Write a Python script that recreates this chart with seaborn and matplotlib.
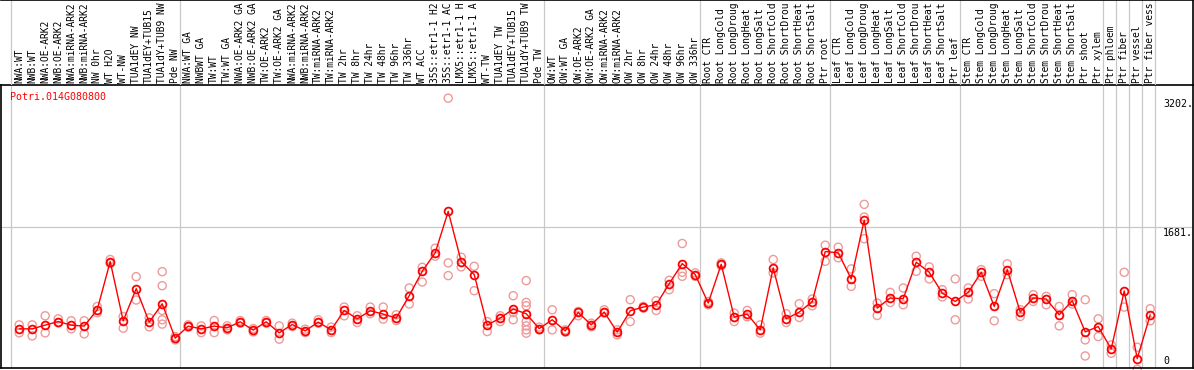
import numpy as np
import pandas as pd
import matplotlib
matplotlib.use("Agg")
import matplotlib.pyplot as plt
import seaborn as sns

# ---------------- data ----------------
gene_id = "Potri.014G080800"

categories = [
    "NWA:WT", "NWB:WT", "NWA:OE-ARK2", "NWB:OE-ARK2", "NWA:miRNA-ARK2", "NWB:miRNA-ARK2",
    "NW 0hr", "WT H2O", "WT-NW", "TUA1dEY NW", "TUA1dEY+TUB15", "TUA1dY+TUB9 NW", "Pde NW",
    "NWA:WT GA", "NWBWT GA", "TW:WT", "TW:WT GA", "NWA:OE-ARK2 GA", "NWB:OE-ARK2 GA",
    "TW:OE-ARK2", "TW:OE-ARK2 GA", "NWA:miRNA-ARK2", "NWB:miRNA-ARK2", "TW:miRNA-ARK2",
    "TW:miRNA-ARK2", "TW 2hr", "TW 8hr", "TW 24hr", "TW 48hr", "TW 96hr", "TW 336hr",
    "WT ACC", "35S::etr1-1 H2", "35S::etr1-1 AC", "LMX5::etr1-1 H", "LMX5::etr1-1 A",
    "WT-TW", "TUA1dEY TW", "TUA1dEY+TUB15", "TUA1dY+TUB9 TW", "Pde TW",
    "OW:WT", "OW:WT GA", "OW:OE-ARK2", "OW:OE-ARK2 GA", "OW:miRNA-ARK2", "OW:miRNA-ARK2",
    "OW 2hr", "OW 8hr", "OW 24hr", "OW 48hr", "OW 96hr", "OW 336hr",
    "Root CTR", "Root LongCold", "Root LongDroug", "Root LongHeat", "Root LongSalt",
    "Root ShortCold", "Root ShortDrou", "Root ShortHeat", "Root ShortSalt", "Ptr root",
    "Leaf CTR", "Leaf LongCold", "Leaf LongDroug", "Leaf LongHeat", "Leaf LongSalt",
    "Leaf ShortCold", "Leaf ShortDrou", "Leaf ShortHeat", "Leaf ShortSalt", "Ptr leaf",
    "Stem CTR", "Stem LongCold", "Stem LongDroug", "Stem LongHeat", "Stem LongSalt",
    "Stem ShortCold", "Stem ShortDrou", "Stem ShortHeat", "Stem ShortSalt", "Ptr shoot",
    "Ptr xylem", "Ptr phloem", "Ptr fiber", "Ptr vessel", "Ptr fiber vess",
]

group_sizes = [13, 28, 12, 10, 10, 11, 1, 1, 1, 1]

mean_values = [
    480, 480, 524, 566, 524, 512, 705, 1274, 575, 954, 559, 776, 370,
    512, 480, 512, 492, 563, 465, 563, 433, 531, 456, 559, 468, 697, 598, 693, 654,
    607, 871, 1159, 1377, 1866, 1274, 1120, 524, 607, 713, 658, 483,
    587, 456, 673, 527, 678, 441, 693, 737, 764, 1013, 1250, 1120,
    784, 1242, 619, 654, 468, 1199, 598, 678, 800, 1392,
    1377, 1069, 1763, 725, 844, 835, 1266, 1147, 903, 803,
    910, 1147, 744, 1179, 678, 844, 832, 646, 812, 444, 507,
    243, 927, 128, 646,
]

replicates = [
    [527, 433], [527, 397], [634, 433], [598, 551], [575, 480], [575, 421],
    [744, 670], [1298, 1250], [626, 488], [1096, 820], [610, 504],
    [1155, 989, 697, 587, 536], [389, 350],
    [527, 500], [515, 436], [578, 436], [515, 468], [578, 547], [483, 444],
    [578, 547], [515, 358], [547, 507], [476, 436], [587, 547], [500, 436],
    [737, 634], [634, 555], [737, 658], [737, 595], [646, 578], [962, 773],
    [1206, 1033], [1431, 1337], [3202, 1258, 1108], [1325, 1211], [1218, 930],
    [566, 448], [634, 566], [871, 673, 587],
    [1049, 792, 752, 566, 515, 468, 429], [500, 468],
    [705, 468], [468, 441], [685, 634], [547, 504], [705, 666], [409, 468],
    [824, 566], [744, 725], [812, 697], [1052, 942], [1487, 1147, 1100], [1140, 1100],
    [803, 764], [1258, 1226], [666, 566], [697, 622], [527, 429], [1298, 1140],
    [658, 555], [776, 614], [832, 752], [1467, 1277],
    [1443, 1318], [1187, 981], [1949, 1799, 1543], [784, 638], [910, 792],
    [962, 764], [1337, 1159], [1211, 1069], [942, 856], [1069, 587],
    [962, 832], [1179, 1100], [895, 575], [1247, 1120], [705, 626], [883, 803],
    [863, 764], [744, 515], [883, 773], [824, 350, 160], [598, 389],
    [290, 192], [1147, 737], [263, 2], [717, 575],
]

gridline_value = 1681
axis_label_values = [3202, 1681, 0]
axis_label_texts = ["3202.", "1681.", "0"]

# ---------------- frames ----------------
idx = np.arange(len(categories))
df_mean = pd.DataFrame({"pos": idx, "value": mean_values})
rep_rows = [(i, v) for i, reps in enumerate(replicates) for v in reps]
df_rep = pd.DataFrame(rep_rows, columns=["pos", "value"])

# ---------------- figure ----------------
sns.set_style("white")
plt.rcParams["font.family"] = ["DejaVu Sans Mono", "DejaVu Sans"]

W, H = 1194, 370
fig = plt.figure(figsize=(W / 100, H / 100), dpi=100)

left_px, right_px = 1, 1193
top_plot_px, bottom_plot_px = 85, 368
ax = fig.add_axes([left_px / W, 1 - bottom_plot_px / H,
                   (right_px - left_px) / W, (bottom_plot_px - top_plot_px) / H])
hax = fig.add_axes([left_px / W, 1 - top_plot_px / H,
                    (right_px - left_px) / W, top_plot_px / H])

xlim = (-1.40, 90.29)
grid_col = "#c8c8c8"

# group separators
bounds = np.concatenate([[0], np.cumsum(group_sizes)]) - 0.6
for b in bounds:
    ax.axvline(b, color=grid_col, lw=0.9, zorder=0)
    hax.axvline(b, color=grid_col, lw=0.9, zorder=0)
ax.axhline(gridline_value, color=grid_col, lw=0.9, zorder=0)

# replicate points
sns.scatterplot(data=df_rep, x="pos", y="value", ax=ax, marker="o", s=34,
                facecolors="none", edgecolor="#ef9a9a", linewidth=1.0,
                zorder=2, clip_on=False, legend=False)
# mean line with markers
sns.lineplot(data=df_mean, x="pos", y="value", ax=ax, sort=False, color="#ff0000",
             lw=1.0, marker="o", markersize=5.6, markerfacecolor="none",
             markeredgecolor="#ff0000", markeredgewidth=1.3, zorder=3,
             clip_on=False, legend=False)

ax.set_xlim(*xlim)
ax.set_ylim(18, 3357)
ax.set_xticks([])
ax.set_yticks([])
ax.set_xlabel("")
ax.set_ylabel("")
for s in ["left", "right", "bottom", "top"]:
    ax.spines[s].set_visible(True)
    ax.spines[s].set_color("black")
    ax.spines[s].set_linewidth(1.2)

# axis value labels at right
for val, txt in zip(axis_label_values, axis_label_texts):
    if val == 0:
        ax.annotate(txt, xy=(0.9748, 0), xycoords="axes fraction",
                    xytext=(0, 2), textcoords="offset pixels",
                    ha="left", va="bottom", fontsize=7.2, color="black")
    else:
        ax.annotate(txt, xy=(0.9748, val), xycoords=("axes fraction", "data"),
                    xytext=(0, -6), textcoords="offset pixels",
                    ha="left", va="center", fontsize=7.2, color="black")

# gene id
ax.text(9 / (right_px - left_px), 1 - 12 / (bottom_plot_px - top_plot_px), gene_id,
        transform=ax.transAxes, ha="left", va="center", fontsize=7.2, color="#ff0000")

# header labels
hax.set_xlim(*xlim)
hax.set_ylim(0, 1)
hax.set_xticks([])
hax.set_yticks([])
for s in ["left", "bottom"]:
    hax.spines[s].set_visible(False)
for s in ["top", "right"]:
    hax.spines[s].set_visible(True)
    hax.spines[s].set_color("black")
    hax.spines[s].set_linewidth(1.2)
hax.patch.set_alpha(0)
for i, lab in enumerate(categories):
    hax.text(i, 2 / top_plot_px, lab, rotation=90, ha="center", va="bottom",
             fontsize=6.9, color="black")

fig.savefig("out.png", dpi=100)
